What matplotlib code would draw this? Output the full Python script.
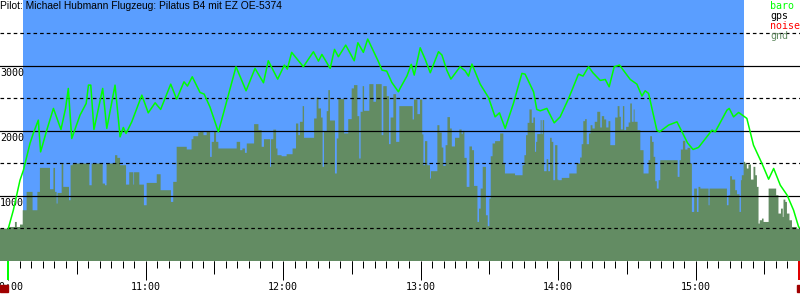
import matplotlib
matplotlib.use("Agg")
import matplotlib.pyplot as plt
import matplotlib.transforms as mtransforms
import numpy as np

# ---------------- data ----------------
title_text = "Pilot: Michael Hubmann Flugzeug: Pilatus B4 mit EZ OE-5374"

# minutes after 10:00
baro_t = [0, 2.2, 5.1, 6.6, 9.5, 10.9, 13.1, 14.1, 16.8, 19.7, 23.0, 25.0, 26.2, 27.7, 31.3, 34.0,
          35.0, 36.0, 37.4, 41.2, 43.0, 46.6, 48.8, 50.2, 51.4, 53.9, 58.3, 61.1, 64.1, 66.5,
          70.9, 73.5, 76.7, 78.2, 80.3, 83.7, 85.5, 88.0, 91.7, 93.9, 99.4, 103.8, 107.7,
          111.4, 113.5, 117.6, 120.5, 121.8, 123.7, 128.8, 133.2, 135.4, 136.9, 140.5, 142.4,
          144.1, 147.3, 151.0, 152.6, 155.0, 156.9, 161.6, 163.1, 165.2, 167.4, 170.3, 171.0,
          174.0, 175.9, 177.2, 179.8, 182.0, 184.2, 187.8, 189.3, 191.4, 193.2, 197.2, 199.4,
          200.9, 202.4, 206.0, 209.6, 212.5, 214.4, 216.9, 220.5, 224.2, 225.6, 229.3, 230.7,
          232.2, 235.1, 238.3, 240.9, 244.6, 248.9, 250.9, 253.3, 255.2, 258.4, 260.6, 262.3,
          264.5, 266.8, 271.5, 274.4, 276.6, 278.0, 279.5, 283.1, 284.3, 288.2, 291.9, 296.5,
          298.9, 301.3, 307.2, 308.6, 313.7, 314.7, 316.6, 318.8, 322.4, 325.3, 329.0, 331.9,
          334.1, 337.0, 340.0, 342.8, 345.0, 346.0]
baro_alt = [500, 780, 1241, 1395, 1811, 1960, 2165, 1677, 2011, 2345, 2021, 2345, 2652, 1883, 2241,
            2421, 2703, 2703, 2021, 2652, 2037, 2703, 1908, 2052, 1960, 2139, 2549, 2277, 2431,
            2329, 2718, 2488, 2754, 2688, 2831, 2590, 2565, 2370, 1985, 2267, 2985, 2616, 2960,
            2739, 3077, 2795, 3011, 2949, 3206, 2985, 3216, 3072, 3175, 2960, 3252, 3139, 3318,
            3077, 3354, 3206, 3411, 3062, 2934, 2918, 2745, 2600, 2652, 2842, 3022, 2857, 3277,
            3098, 2893, 3216, 3165, 2934, 2795, 2985, 2923, 2842, 3026, 2718, 2514, 2215, 2277,
            2037, 2421, 2883, 2872, 2600, 2329, 2308, 2345, 2123, 2215, 2498, 2872, 2842, 2985,
            2893, 2775, 2790, 2677, 2985, 3011, 2790, 2718, 2534, 2616, 2575, 2011, 1985, 2088,
            2139, 1815, 1714, 1745, 2011, 1985, 2318, 2345, 2215, 2283, 2191, 1780, 1498, 1257,
            1422, 1165, 1011, 780, 523, 500]

gnd_t = [-4, 0, 2.9, 3.7, 5.1, 6.3, 8.0, 10.6, 12.7, 13.8, 18.2, 19.7, 20.4, 21.1, 21.5, 23.3, 24.0,
         26.5, 27.2, 28.1, 35.4, 36.4, 41.2, 42.2, 42.9, 46.6, 47.6, 48.8, 51.4, 52.8, 54.6, 54.9,
         57.2, 59.2, 60.4, 64.8, 66.5, 71.0, 72.0, 73.5, 77.9, 80.0, 80.8, 82.9,
         83.7, 85.2, 86.6, 88.1, 88.8, 89.8, 90.7, 91.7, 99.7, 101.2, 102.2, 103.3, 104.1, 107.3,
         109.2, 110.6, 111.6, 114.3, 114.7, 115.7, 116.9, 117.5, 119.3, 121.5, 124.1, 125.6,
         126.6, 127.3, 128.5, 129.1, 133.5, 134.6, 135.4, 136.5, 137.2, 137.8, 139.0, 139.7,
         140.4, 142.6, 143.4, 144.1, 146.6, 148.4, 149.9, 150.9, 152.4, 153.2, 153.8, 154.7,
         155.3, 157.6, 159.4, 160.5, 163.0, 163.7, 165.2, 166.2, 166.9, 168.1, 169.3, 170.7,
         176.5, 177.1, 178.6, 179.7, 180.7, 181.2, 181.9, 182.9, 184.1, 184.5, 187.3, 188.2,
         189.2, 189.9, 190.9, 191.7, 192.8, 193.6, 195.0, 196.9, 197.9, 198.4, 199.1, 200.1,
         201.3, 202.4, 203.3, 204.8, 205.5, 206.2, 207.1, 208.5, 209.3, 210.0, 210.6, 211.4,
         212.5, 214.7, 216.1, 216.8, 221.2, 224.5, 225.3, 226.0, 226.7, 227.5, 228.5, 229.2,
         229.9, 230.4, 230.9, 232.4, 232.8, 233.3, 233.9, 235.0, 235.7, 236.5, 237.2, 237.9,
         238.7, 239.7, 240.1, 241.6, 244.9, 248.1, 249.6, 250.3, 251.0, 251.8, 252.5, 253.5,
         254.2, 255.0, 256.0, 257.1,
         258.4, 259.1, 260.1, 261.0, 262.0, 262.8, 264.9, 266.0, 266.8, 267.4, 268.3, 268.9,
         269.7, 270.8, 271.5, 272.2, 273.0, 273.4, 274.7, 275.9, 277.3, 279.5, 280.2, 281.0,
         281.7, 282.4, 283.1, 283.9, 284.6, 292.2, 293.0, 293.6, 294.5, 295.5, 296.5, 297.7,
         298.4, 299.4, 300.6, 301.3, 302.1, 305.7, 306.1, 313.7, 314.4, 315.1, 315.9, 317.3,
         318.1, 319.2, 319.8, 320.2, 321.0, 321.7, 322.4, 323.1, 324.2, 325.3, 326.1, 326.8,
         327.5, 328.0, 329.0, 329.7, 331.9, 335.2, 336.2, 337.3, 338.1, 338.4, 339.2, 339.9,
         341.0, 342.1, 344.2, 347.0]
gnd_alt = [498, 523, 600, 523, 560, 780, 1062, 780, 1062, 1431, 1103, 1431, 1062, 883, 1046, 1498, 1139,
           934, 1472, 1498, 1164, 1498, 1190, 1164, 1498, 1626, 1585, 1472, 1174, 1364, 1174, 1364,
           1174, 857, 1200, 1333, 1088, 908, 1216, 1755, 1714, 1872, 1918, 1975,
           1985, 1934, 1985, 1600, 1831, 1985, 1831, 1729, 1831, 1703, 1729, 1662, 1806, 2103,
           2011, 1755, 1872, 1447, 1872, 2019, 1729, 1626, 1610, 1641, 1729, 2113,
           1934, 2139, 2380, 1893, 2190, 2513, 2344, 2205, 1447, 1985, 2303, 2626,
           2159, 1345, 1883, 2488, 1960, 2180, 2652, 2703, 2226, 1575, 2293, 2687,
           2308, 2718, 2447, 2718, 1934, 2687, 2533, 1796, 2205, 2564, 1831, 2380,
           2175, 2482, 2257, 2482, 1945, 1472, 1842, 1472, 1267, 1380, 2087, 1975,
           1744, 1462, 1780, 2211, 2036, 1760, 1893, 2021, 1950, 2000, 1585, 1139,
           1760, 1703, 1154, 600, 805, 1113, 1447, 703, 535, 960, 1610, 1806,
           1842, 1960, 1488, 1345, 1318, 1472, 1626, 1934, 2123, 2329, 2123, 2205,
           1678, 1831, 1950, 2165, 1950, 2165, 1380, 1565, 1380, 1893, 1831, 1242,
           1780, 1251, 1242, 1277, 1345, 1498, 1590, 1795, 2149, 2180, 1795, 1960,
           2087, 2036, 2139, 2293,
           2052, 2226, 2175, 2052, 2149, 1780, 2205, 2380, 2216, 2021, 2380, 2011,
           2062, 2129, 2421, 2139, 2329, 2139, 2011, 1703, 1345, 1549, 1918, 1831,
           1601, 1226, 1113, 1242, 1549, 1293, 1549, 1713, 1846, 1713, 1739, 1498,
           754, 1113, 754, 1139, 1113, 857, 1113, 857, 1011, 1303, 1251, 1088,
           1026, 754, 1242, 1318, 1524, 1498, 1421, 1483, 1251, 1447, 1318, 1139,
           575, 626, 652, 600, 1113, 1011, 729, 805, 677, 944, 908, 729,
           626, 523, 498, 498]

flight_span = (6.4, 321.3)          # minutes after 10:00 (blue background)
y_solid = [1000, 2000, 3000]
y_dashed = [500, 1500, 2500, 3500]
y_labels = ["1000", "2000", "3000"]
hour_ticks = [0, 60, 120, 180, 240, 300]
hour_labels = ["10:00", "11:00", "12:00", "13:00", "14:00", "15:00"]
legend_names = ["baro", "gps", "noise", "gnd"]
legend_colors = ["#00ff00", "#000000", "#ff0000", "#638c63"]
t_start, t_end = 0, 345.0

# ---------------- style ----------------
BLUE = "#5a9eff"
GND = "#638c63"
BARO = "#00ff00"
PX = 0.72  # one pixel in points at dpi 100

fig = plt.figure(figsize=(8, 3), dpi=100)
ax = fig.add_axes([0, 39 / 300, 1, 261 / 300])
ax.set_xlim(-3.62, 345.6)
ax.set_ylim(0, 4011)
for s in ax.spines.values():
    s.set_visible(False)
ax.set_yticks([])

ax.axvspan(*flight_span, color=BLUE, zorder=0, lw=0)
ax.fill_between(gnd_t, gnd_alt, 0, step="post", color=GND, lw=0, zorder=1)

for v in y_solid:
    ax.axhline(v, color="black", lw=1.2 * PX, zorder=2)
for v in y_dashed:
    ax.axhline(v, color="black", lw=1.2 * PX, dashes=(3, 2.5), zorder=2)

ax.plot(baro_t, baro_alt, color=BARO, lw=1.1, zorder=3, drawstyle="default")

ytrans = mtransforms.blended_transform_factory(ax.transAxes, ax.transData)
for v, lab in zip(y_solid, y_labels):
    ax.text(0.0, v - 30, lab, transform=ytrans, ha="left", va="top",
            family="DejaVu Sans Mono", fontsize=7.2, color="black", zorder=2.5)

# x ticks
minor = np.arange(0, 346, 5)
ax.set_xticks(hour_ticks)
ax.set_xticklabels(hour_labels, family="DejaVu Sans Mono", fontsize=7.2)
ax.set_xticks(minor, minor=True)
ax.tick_params(axis="x", which="major", length=19 * PX, width=PX, pad=1.5, direction="out")
ax.tick_params(axis="x", which="minor", length=7 * PX, width=PX, direction="out")
xtrans = mtransforms.blended_transform_factory(ax.transData, ax.transAxes)
half = [m for m in minor if m % 60 == 30]
ax.vlines(half, -13 / 261, 0, transform=xtrans, color="black", lw=PX, clip_on=False)
ax.vlines([t_start], -19 / 261, 0, transform=xtrans, color=BARO, lw=2 * PX, clip_on=False, zorder=5)
ax.vlines([t_end], -19 / 261, 0, transform=xtrans, color="#e00000", lw=2 * PX, clip_on=False, zorder=5)
fig.patches.append(plt.Rectangle((0, 8 / 300), 8 / 800, 7 / 300, transform=fig.transFigure,
                                 color="#a00000", zorder=5))
fig.patches.append(plt.Rectangle((797 / 800, 8 / 300), 3 / 800, 7 / 300, transform=fig.transFigure,
                                 color="#a00000", zorder=5))

fig.text(0.0, 1 - 1 / 300, title_text, ha="left", va="top", family="Liberation Sans",
         fontsize=7.4, color="black")
for i, (n, c) in enumerate(zip(legend_names, legend_colors)):
    fig.text(770 / 800, 1 - (1 + 10 * i) / 300, n, ha="left", va="top",
             family="DejaVu Sans Mono", fontsize=7.2, color=c)

fig.savefig("out.png", dpi=100)
